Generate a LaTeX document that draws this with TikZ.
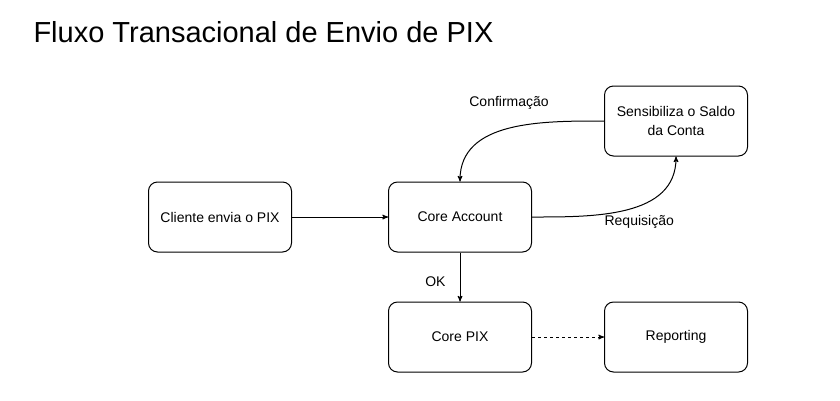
\documentclass[tikz,border=0pt]{standalone}
\usepackage{fontspec}
\setmainfont{Liberation Sans}
\usetikzlibrary{arrows,positioning}

\begin{document}
\begin{tikzpicture}[x=1pt,y=-1pt,>=stealth',line width=1pt,
    box/.style={rectangle, draw, rounded corners=9pt, minimum width=143pt, minimum height=70pt, align=center, font=\fontsize{14}{19}\selectfont},
    lbl/.style={inner sep=0pt, font=\fontsize{14}{17}\selectfont}]
				\useasboundingbox (0,0) rectangle (840,400);
				\node[anchor=base west, inner sep=0pt, font=\fontsize{29}{34}\selectfont] (T) at (33,42) {Fluxo Transacional de Envio de PIX};

				\node[box] 		 (CL) at (220,217)              {Cliente envia o PIX};
				\node[box]         (CA) [right=96pt of CL]        {Core Account};
				\node[box]         (SB) [above right=25pt and 72pt of CA] {Sensibiliza o Saldo\\da Conta};
				\node[box]         (CP) [below=49pt of CA]        {Core PIX};
				\node[box]         (RP) [right=72pt of CP]        {Reporting};


				\path[->] (CL)  edge 			                 (CA)
						  (CA)  edge[out=0,in=-90]    node[lbl, pos=0.55, below=8pt, xshift=4pt] {Requisição}   (SB)
						        edge                node[lbl, pos=0.6, left=14pt] {OK}   (CP)
						  (SB)	edge[out=180,in=90]   node[lbl, pos=0.5, above=18pt] {Confirmação}   (CA)
						  (CP)	edge[dashed]                   (RP);

			\end{tikzpicture}
\end{document}
